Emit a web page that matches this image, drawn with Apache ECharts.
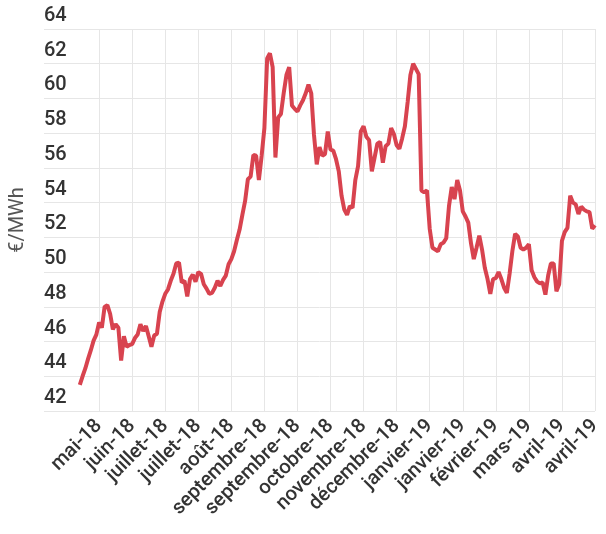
<!DOCTYPE html>
<html>
<head>
<meta charset="utf-8">
<script src="https://cdn.jsdelivr.net/npm/echarts@6/dist/echarts.min.js"></script>
<style>
html,body{margin:0;padding:0;background:#fff;}
#chart{width:606px;height:534px;}
</style>
</head>
<body>
<div id="chart"></div>
<script>
// Tick labels shown along the x axis (one every 12 observations)
const xTickLabels = ['mai-18','juin-18','juillet-18','juillet-18','août-18','septembre-18','septembre-18','octobre-18','novembre-18','décembre-18','janvier-19','janvier-19','février-19','mars-19','avril-19','avril-19'];

// Price series (€/MWh)
const prices = [
  43.5, 44.0, 44.45, 45.0, 45.5, 46.05, 46.4, 47.1, 46.8, 48.0,
  48.1, 47.6, 46.7, 47.0, 46.8, 44.9, 46.3, 45.7, 45.8, 45.85,
  46.2, 46.4, 47.0, 46.6, 46.9, 46.3, 45.7, 46.35, 46.45, 47.7,
  48.3, 48.75, 49.0, 49.5, 49.9, 50.5, 50.55, 49.4, 49.5, 48.6,
  49.6, 49.85, 49.45, 50.0, 49.9, 49.3, 49.05, 48.75, 48.8, 49.1,
  49.5, 49.2, 49.55, 49.8, 50.45, 50.75, 51.2, 51.85, 52.45, 53.3,
  54.1, 55.35, 55.5, 56.75, 56.7, 55.3, 56.7, 58.3, 62.3, 62.6,
  61.8, 56.6, 58.9, 59.1, 60.3, 61.35, 61.8, 59.6, 59.4, 59.25,
  59.6, 59.9, 60.3, 60.8, 60.3, 57.9, 56.2, 57.2, 56.7, 56.8,
  58.1, 57.05, 57.0, 56.5, 55.8, 54.4, 53.6, 53.3, 53.8, 53.7,
  55.3, 56.1, 58.1, 58.4, 57.8, 57.6, 55.8, 56.6, 57.4, 57.5,
  56.3, 57.25, 57.4, 58.3, 57.95, 57.3, 57.1, 57.7, 58.4, 59.8,
  61.35, 62.0, 61.7, 61.4, 54.7, 54.6, 54.7, 52.5, 51.4, 51.3,
  51.2, 51.6, 51.7, 51.95, 53.8, 54.9, 54.2, 55.3, 54.7, 53.5,
  53.2, 52.85, 51.65, 50.75, 51.4, 52.1, 51.3, 50.25, 49.6, 48.75,
  49.6, 49.65, 50.0, 49.6, 49.1, 48.8, 49.9, 51.2, 52.2, 52.05,
  51.4, 51.3, 51.4, 51.6, 50.1, 49.7, 49.45, 49.35, 49.4, 48.7,
  49.8, 50.5, 50.5, 48.9, 49.3, 51.8, 52.3, 52.55, 54.4, 54.0,
  53.9, 53.35, 53.77, 53.6, 53.5, 53.45, 52.5, 52.7
];

// Axis layout constants
const leadSlots = 13;       // empty slots before the first observation
const firstTickSlot = 20;   // slot of first labelled tick
const slotsPerTick = 12;    // observations between labelled ticks

const totalSlots = firstTickSlot + slotsPerTick * (xTickLabels.length - 1) + 1;
const categories = [];
for (let k = 0; k < totalSlots; k++) {
  const rel = k - firstTickSlot;
  categories.push(rel >= 0 && rel % slotsPerTick === 0 ? xTickLabels[rel / slotsPerTick] : 'p' + k);
}
const isTick = (idx) => idx >= firstTickSlot && (idx - firstTickSlot) % slotsPerTick === 0;
const seriesData = prices.map((v, k) => [k + leadSlots, v]);

const chart = echarts.init(document.getElementById('chart'), null, {renderer: 'canvas'});
const font = 'Roboto, "Noto Sans", sans-serif';
chart.setOption({
  animation: false,
  backgroundColor: '#ffffff',
  grid: {left: 37, right: 11, top: 29, bottom: 123, containLabel: false},
  xAxis: {
    type: 'category',
    data: categories,
    boundaryGap: false,
    axisLine: {show: false},
    axisTick: {show: false},
    axisLabel: {
      interval: isTick,
      rotate: 45,
      margin: 12,
      color: '#333333',
      fontFamily: font,
      fontSize: 20,
      fontWeight: 500
    },
    splitLine: {show: true, interval: isTick, lineStyle: {color: '#e6e6e6', width: 1}}
  },
  yAxis: {
    type: 'value',
    min: 42,
    max: 64,
    interval: 2,
    name: '€/MWh',
    nameLocation: 'middle',
    nameGap: 16,
    nameRotate: 90,
    nameTextStyle: {color: '#555555', fontFamily: font, fontSize: 20},
    axisLine: {show: false},
    axisTick: {show: false},
    axisLabel: {
      inside: true,
      margin: 0,
      align: 'left',
      verticalAlign: 'bottom',
      padding: [0, 0, 3, 0],
      color: '#333333',
      fontFamily: font,
      fontSize: 20,
      fontWeight: 500
    },
    splitLine: {show: true, lineStyle: {color: '#e6e6e6', width: 1}}
  },
  series: [{
    type: 'line',
    data: seriesData,
    showSymbol: false,
    symbol: 'none',
    lineStyle: {color: '#d8434f', width: 4},
    itemStyle: {color: '#d8434f'}
  }]
});
</script>
</body>
</html>
